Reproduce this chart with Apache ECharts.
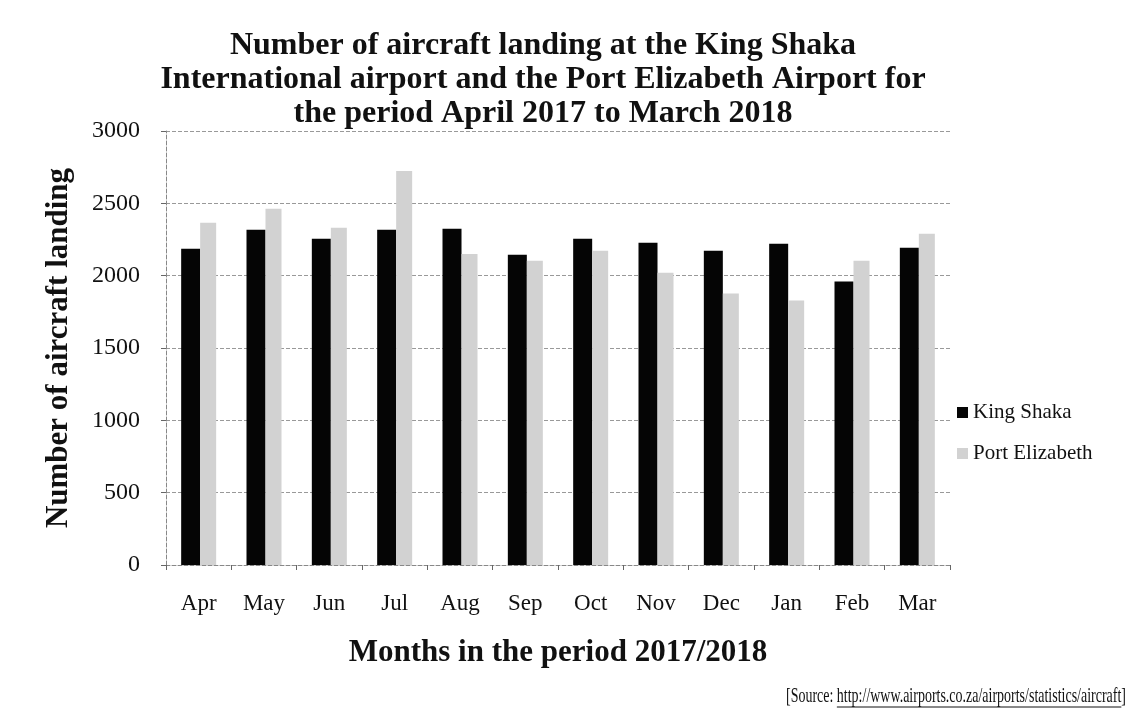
<!DOCTYPE html>
<html>
<head>
<meta charset="utf-8">
<script src="https://cdn.jsdelivr.net/npm/echarts@6/dist/echarts.min.js"></script>
<style>
  html, body { margin: 0; padding: 0; background: #fff; }
  #main { width: 1133px; height: 720px; }
</style>
</head>
<body>
<div id="main"></div>
<script>
var months = ['Apr', 'May', 'Jun', 'Jul', 'Aug', 'Sep', 'Oct', 'Nov', 'Dec', 'Jan', 'Feb', 'Mar'];
var kingShaka = [2186, 2317, 2255, 2317, 2324, 2145, 2255, 2228, 2172, 2221, 1959, 2193];
var portElizabeth = [2366, 2462, 2331, 2724, 2150, 2103, 2172, 2021, 1876, 1828, 2103, 2290];
var yTicks = [0, 500, 1000, 1500, 2000, 2500, 3000];

var serif = 'Liberation Serif';
var myChart = echarts.init(document.getElementById('main'));

// source line: squeeze it into the space the scan shows
var srcPre = '[Source: ';
var srcUrl = 'http://www.airports.co.za/airports/statistics/aircraft';
var srcFont = '21px "Liberation Serif"';
var ctx = document.createElement('canvas').getContext('2d');
ctx.font = srcFont;
var preW = ctx.measureText(srcPre).width;
var urlW = ctx.measureText(srcUrl).width;
var fullW = ctx.measureText(srcPre + srcUrl + ']').width;
var srcLeft = 786, srcRight = 1126;
var srcScale = (srcRight - srcLeft) / fullW;

var option = {
  backgroundColor: '#fff',
  animation: false,
  textStyle: { fontFamily: serif, color: '#111' },
  title: {
    text: 'Number of aircraft landing at the King Shaka\nInternational airport and the Port Elizabeth Airport for\nthe period April 2017 to March 2018',
    left: 538,
    top: 24,
    textAlign: 'center',
    textStyle: {
      fontFamily: serif,
      fontWeight: 'bold',
      fontSize: 32,
      lineHeight: 34,
      color: '#111'
    }
  },
  legend: {
    orient: 'vertical',
    left: 952,
    top: 397,
    icon: 'rect',
    itemWidth: 11,
    itemHeight: 11,
    itemGap: 20,
    textStyle: { fontFamily: serif, fontSize: 21, color: '#111' },
    data: ['King Shaka', 'Port Elizabeth']
  },
  grid: { left: 166, right: 183, top: 131, bottom: 155 },
  xAxis: {
    type: 'category',
    data: months,
    name: 'Months in the period 2017/2018',
    nameLocation: 'middle',
    nameGap: 72,
    nameTextStyle: { fontFamily: serif, fontWeight: 'bold', fontSize: 31, color: '#111' },
    axisLine: { lineStyle: { color: '#888', type: 'dashed' } },
    axisTick: { show: true, lineStyle: { color: '#666' }, length: 5 },
    axisLabel: { fontFamily: serif, fontSize: 23, color: '#111', margin: 27 }
  },
  yAxis: {
    type: 'value',
    min: yTicks[0],
    max: yTicks[yTicks.length - 1],
    interval: 500,
    name: 'Number of aircraft landing',
    nameLocation: 'middle',
    nameGap: 92,
    nameTextStyle: { fontFamily: serif, fontWeight: 'bold', fontSize: 31, color: '#111' },
    axisLine: { show: true, lineStyle: { color: '#888', type: 'dashed' } },
    axisTick: { show: true, lineStyle: { color: '#666' }, length: 5 },
    axisLabel: { fontFamily: serif, fontSize: 24, color: '#111', margin: 26, formatter: function (v) { return String(v); } },
    splitLine: { lineStyle: { color: '#999', type: 'dashed', width: 1 } }
  },
  series: [
    {
      name: 'King Shaka',
      type: 'bar',
      data: kingShaka,
      barWidth: 19,
      barGap: '0%',
      itemStyle: { color: '#050505' }
    },
    {
      name: 'Port Elizabeth',
      type: 'bar',
      data: portElizabeth,
      barWidth: 16,
      itemStyle: { color: '#d2d2d2' }
    }
  ],
  graphic: [
    {
      type: 'text',
      x: srcLeft,
      y: 686,
      scaleX: srcScale,
      style: {
        text: srcPre + srcUrl + ']',
        font: srcFont,
        fill: '#111'
      }
    },
    {
      type: 'line',
      shape: { x1: srcLeft + preW * srcScale, y1: 707, x2: srcLeft + (preW + urlW) * srcScale, y2: 707 },
      style: { stroke: '#111', lineWidth: 1 }
    }
  ]
};

myChart.setOption(option);
</script>
</body>
</html>
